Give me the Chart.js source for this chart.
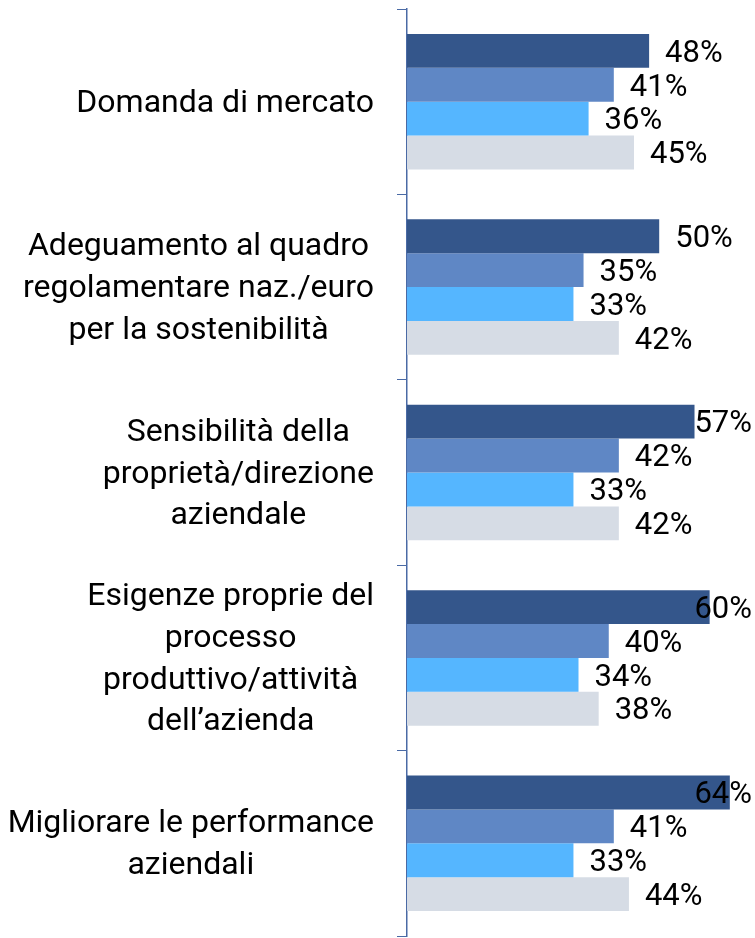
<!DOCTYPE html>
<html>
<head>
<meta charset="utf-8">
<script src="https://cdn.jsdelivr.net/npm/chart.js@4/dist/chart.umd.min.js"></script>
<style>
  html, body { margin: 0; padding: 0; background: #fff; }
  #wrap { width: 755px; height: 938px; }
</style>
</head>
<body>
<div id="wrap"><canvas id="chart" width="755" height="938"></canvas></div>
<script>
// Categories (multi-line labels as in the original)
const categories = [
  ["Domanda di mercato"],
  ["Adeguamento al quadro", "regolamentare naz./euro", "per la sostenibilità"],
  ["Sensibilità della", "proprietà/direzione", "aziendale"],
  ["Esigenze proprie del", "processo", "produttivo/attività", "dell\u2019azienda"],
  ["Migliorare le performance", "aziendali"]
]

// Four series, values in %
const series1 = [48, 50, 57, 60, 64]
const series2 = [41, 35, 42, 40, 41]
const series3 = [36, 33, 33, 34, 33]
const series4 = [45, 42, 42, 38, 44]

const colors = ["#34568b", "#5f87c5", "#55b6ff", "#d6dce5"]
const axisColor = "#4a6aa5"
const FONT = "Roboto, 'Noto Sans', sans-serif"

// Category labels: each block centred on itself, right-aligned next to the axis
const categoryLabels = {
  id: "categoryLabels",
  afterDraw(chart) {
    const { ctx, scales } = chart
    const y = scales.y
    const right = y.right - 33
    const lineH = 41.7
    ctx.save()
    ctx.font = "32px " + FONT
    ctx.fillStyle = "#000"
    ctx.textAlign = "center"
    ctx.textBaseline = "middle"
    categories.forEach((lines, i) => {
      const maxW = Math.max(...lines.map(l => ctx.measureText(l).width))
      const cx = right - maxW / 2
      const cy = y.getPixelForValue(i) + 2
      const top = cy - (lines.length - 1) * lineH / 2
      lines.forEach((l, j) => ctx.fillText(l, cx, top + j * lineH))
    })
    ctx.restore()
  }
}

// Value labels after each bar, kept inside the plot area
const valueLabels = {
  id: "valueLabels",
  afterDatasetsDraw(chart) {
    const { ctx, chartArea } = chart
    ctx.save()
    ctx.font = "31px " + FONT
    ctx.fillStyle = "#000"
    ctx.textAlign = "left"
    ctx.textBaseline = "middle"
    chart.data.datasets.forEach((ds, di) => {
      chart.getDatasetMeta(di).data.forEach((bar, i) => {
        const text = ds.data[i] + "%"
        const w = ctx.measureText(text).width
        const x = Math.min(bar.x + 16, chartArea.right + 2 - w)
        ctx.fillText(text, x, bar.y + 3)
      })
    })
    ctx.restore()
  }
}

new Chart(document.getElementById("chart"), {
  type: "bar",
  data: {
    labels: categories.map(c => c.join(" ")),
    datasets: [series1, series2, series3, series4].map((d, i) => ({
      data: d,
      backgroundColor: colors[i],
      categoryPercentage: 0.731,
      barPercentage: 1
    }))
  },
  options: {
    indexAxis: "y",
    responsive: false,
    animation: false,
    layout: { padding: { top: 9, right: 5, bottom: 2, left: 0 } },
    plugins: { legend: { display: false }, tooltip: { enabled: false } },
    scales: {
      x: { display: false, min: 0, max: 68 },
      y: {
        grid: { drawOnChartArea: false, tickLength: 10, color: axisColor, offset: true },
        border: { color: axisColor, width: 1.5 },
        ticks: { display: false },
        afterFit(scale) { scale.width = 407 }
      }
    }
  },
  plugins: [categoryLabels, valueLabels]
})
</script>
</body>
</html>
